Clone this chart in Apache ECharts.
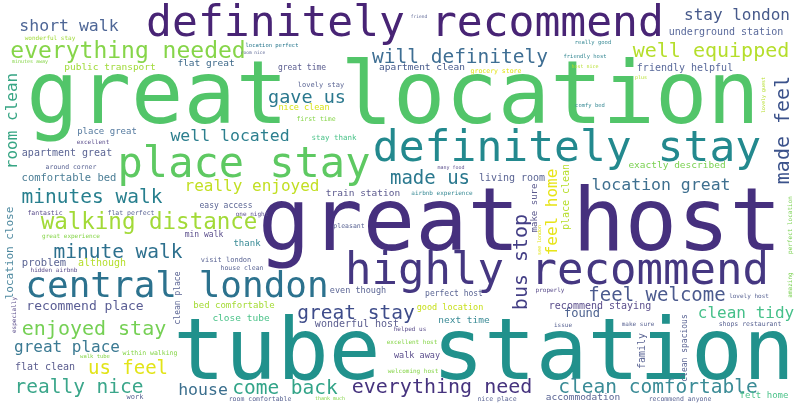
<!DOCTYPE html>
<html><head><meta charset="utf-8">
<script src="https://cdn.jsdelivr.net/npm/echarts@6/dist/echarts.min.js"></script>
<style>html,body{margin:0;padding:0;background:#fff}#c{width:796px;height:407px}</style>
</head><body><div id="c"></div>
<script>
const words = ["great location","great host","tube station","definitely recommend","highly recommend","definitely stay","place stay","central london","walking distance","everything needed","well equipped","stay london","short walk","will definitely","gave us","well located","room clean","minutes walk","minute walk","really enjoyed","made us","feel home","bus stop","location great","made feel","great stay","recommend place","enjoyed stay","great place","us feel","really nice","house","come back","everything need","clean comfortable","feel welcome","clean tidy","found","recommend staying","underground station","friendly helpful","exactly described","apartment clean","public transport","flat great","great time","nice clean","apartment great","comfortable bed","place great","living room","train station","make sure","place clean","location close","problem","although","flat clean","bed comfortable","close tube","wonderful host","even though","next time","good location","perfect host","walk away","family","clean spacious","accommodation","felt home","location perfect","lovely stay","first time","grocery store","stay thank","excellent","around corner","fantastic","flat perfect","great experience","min walk","easy access","one night","thank","visit london","house clean","pleasant","hidden airbnb","airbnb experience","wonderful stay","minutes away","room nice","friend","really good","friendly host","host nice","comfy bed","plus","perfect location","especially","clean place","within walking","walk tube","work","room comfortable","thank much","helped us","excellent host","welcoming host","nice place","properly","issue","lovely host","make sure","shops restaurant","recommend anyone","lovely guest","amazing","see london","many food"];
const weights = [87,87,86,43,44,43,42,36,22.5,23,20,16,16.5,19.5,18.5,16.5,16,19.5,19.5,16,19,16,20,16.5,20,19.5,13,20,16,19,19.5,16.5,19.5,20,19.5,19,16,12,10,10,10,9.5,9.5,9.5,9.5,8,8.5,10,10.5,9,10,9.5,9,10,11,10.5,10,10,9,9.5,10,8.5,9.5,8.5,8,8.5,10,8,9.5,9,5.5,7,6.5,6.5,7.5,6,6.5,6.5,6.5,6,8,8,6,9,7,6.5,6.5,6,6,6,5,4.5,4.5,5.5,5.5,5,5.5,5,6,6,8,6.5,5.5,7,6.5,5,6,6,6,6.5,6,6,6,6,6.5,6.5,5,6,5,5];
const posX = [393,520,484,405,557,567,244,177,149,128,711,737,69,460,307,230,13,92,118,252,430,553,522,661,784,356,85,94,67,128,79,203,285,442,658,657,746,582,600,726,685,677,422,110,206,302,304,67,69,107,512,363,535,566,10,44,102,45,234,241,357,358,464,450,454,417,642,685,583,764,272,321,316,496,334,93,71,45,131,71,204,226,252,247,226,242,349,54,442,50,30,253,419,593,585,585,590,641,790,14,178,150,95,135,260,330,410,412,413,497,550,563,749,638,750,680,764,790,540,451];
const posY = [100,227,357,25,273,150,166,288,223,52,52,16,27,58,98,137,121,198,253,187,179,212,262,186,130,314,307,330,348,369,388,391,389,388,388,296,314,314,306,32,68,166,68,68,64,68,108,153,178,132,178,194,208,197,253,263,263,367,306,319,324,291,321,308,294,356,351,348,398,396,46,85,119,71,138,142,167,213,213,236,235,206,214,244,260,268,226,270,193,38,62,53,17,43,57,67,106,78,225,315,298,353,357,397,399,399,329,342,371,399,290,325,296,324,324,399,95,285,240,168];
const angles = [0,0,0,0,0,0,0,0,0,0,0,0,0,0,0,0,90,0,0,0,0,90,90,0,90,0,0,0,0,0,0,0,0,0,0,0,0,0,0,0,0,0,0,0,0,0,0,0,0,0,0,0,90,90,90,0,0,0,0,0,0,0,0,0,0,0,90,90,0,0,0,0,0,0,0,0,0,0,0,0,0,0,0,0,0,0,0,0,0,0,0,0,0,0,0,0,0,0,90,90,90,0,0,0,0,0,0,0,0,0,0,0,0,0,0,0,90,90,90,0];
const colours = ["#52c569","#46307e","#21918c","#482475","#453781","#23898e","#5ec962","#2c728e","#a2da37","#86d549","#b5de2b","#46598b","#4e6696","#3e6e93","#2a788e","#2c7f8e","#37a584","#277f8e","#2d708e","#c2df23","#2a788e","#e7e419","#433e85","#3e6f8f","#3b528b","#3e4c8a","#5a5d94","#75d054","#3b7a93","#e2e418","#3aa68a","#3b6f8e","#32a488","#46337e","#3a8b96","#4b5a8e","#46c08a","#4d6290","#5b4e8c","#5a6a9b","#5a6a9b","#7ad151","#46598b","#a0da39","#3f6a8a","#5b5d8f","#d8e219","#5b6594","#4a7d95","#557a9f","#5b6594","#5c5a8e","#5c5a8e","#b7de2b","#4f8aa0","#5b6594","#b5de2b","#5b5d8f","#a5db36","#4cc38a","#5b5d8f","#5b6594","#3a8b96","#c8e020","#5b6594","#5b4e8c","#5b6594","#5b6594","#5b6594","#4cc38a","#2a788e","#5b6594","#86d549","#e2e418","#4cc38a","#5b4e8c","#5b6594","#5b4e8c","#5b6594","#86d549","#5b4e8c","#5b6594","#5b4e8c","#3a8b96","#5b6594","#5b6594","#5b6594","#5b4e8c","#3a8b96","#a0da39","#86d549","#5b6594","#5b6594","#3a8b96","#3a8b96","#b5de2b","#3a8b96","#b5de2b","#7ad151","#5b4e8c","#5b6594","#86d549","#86d549","#5b6594","#5b6594","#86d549","#5b4e8c","#86d549","#86d549","#5b6594","#5b4e8c","#5b6594","#5b6594","#5b6594","#5b6594","#5b6594","#b5de2b","#7ad151","#e2e418","#5b4e8c"];

const data = words.map((w, i) => ({
  name: w,
  value: [posX[i], posY[i]],
  label: { fontSize: weights[i], rotate: angles[i], color: colours[i] }
}));

const chart = echarts.init(document.getElementById('c'), null, {renderer: 'canvas'});
chart.setOption({
  backgroundColor: '#ffffff',
  animation: false,
  grid: {left: 0, right: 0, top: 0, bottom: 0},
  xAxis: {type: 'value', min: 0, max: 796, show: false},
  yAxis: {type: 'value', min: 0, max: 407, inverse: true, show: false},
  series: [{
    type: 'scatter',
    symbolSize: 0,
    silent: true,
    itemStyle: {opacity: 1},
    data: data,
    label: {
      show: true,
      opacity: 1,
      position: 'inside',
      formatter: '{b}',
      fontFamily: 'DejaVu Sans Mono',
      align: 'center',
      verticalAlign: 'middle'
    }
  }]
});
</script></body></html>
